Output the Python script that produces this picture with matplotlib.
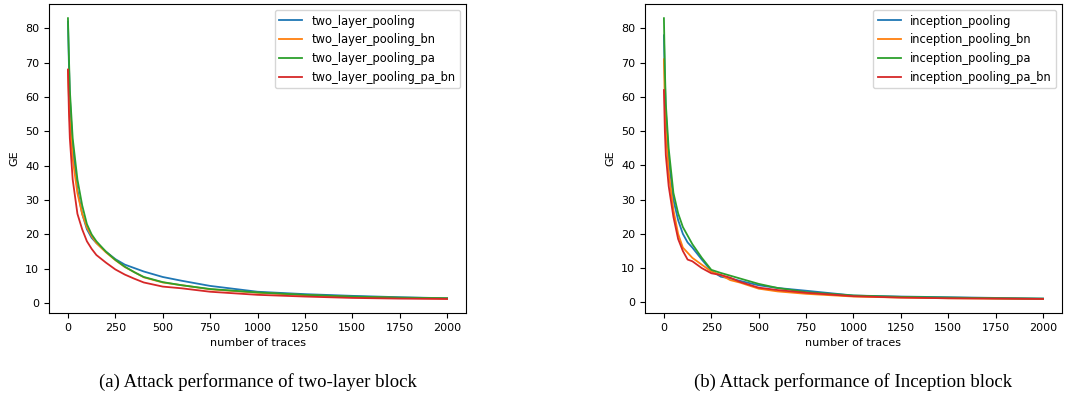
import matplotlib.pyplot as plt

# valeurs (GE en fonction du nombre de traces)
x_pts = [0, 5, 10, 25, 50, 75, 100, 125, 150, 200, 250, 300, 350, 400, 500, 600, 750, 1000, 1250, 1500, 1750, 2000]

two_layer = {
    "two_layer_pooling":       [82, 70, 60, 45, 33, 26, 21.5, 19, 17.5, 15, 12.8, 11.2, 10.2, 9.2, 7.6, 6.5, 5.0, 3.3, 2.6, 2.1, 1.7, 1.4],
    "two_layer_pooling_bn":    [68, 60, 53, 42, 32, 26, 22, 19.5, 17.5, 14.8, 12.5, 10.5, 9.0, 7.5, 6.0, 5.2, 4.0, 3.0, 2.3, 1.8, 1.5, 1.3],
    "two_layer_pooling_pa":    [83, 72, 62, 48, 36, 28.5, 23, 20, 18, 15, 12.6, 10.6, 9.0, 7.6, 6.1, 5.2, 4.1, 3.1, 2.4, 1.9, 1.6, 1.4],
    "two_layer_pooling_pa_bn": [68, 56, 48, 36, 26, 21.5, 18, 15.8, 14, 11.8, 9.8, 8.3, 7.1, 6.0, 4.8, 4.3, 3.3, 2.4, 1.9, 1.5, 1.3, 1.2],
}

inception = {
    "inception_pooling":       [78, 65, 56, 42, 30, 24, 20, 17.5, 16, 12.5, 9.2, 7.5, 7.0, 6.3, 5.0, 4.2, 3.4, 2.0, 1.7, 1.5, 1.3, 1.1],
    "inception_pooling_bn":    [71, 58, 50, 38, 27, 20, 16, 14.5, 13, 11, 9.0, 8.0, 6.5, 5.8, 4.0, 3.2, 2.5, 1.7, 1.4, 1.2, 1.1, 1.0],
    "inception_pooling_pa":    [83, 68, 58, 45, 32, 26, 22, 19.5, 17, 13, 9.5, 8.6, 7.8, 7.0, 5.4, 4.2, 3.0, 2.0, 1.6, 1.4, 1.2, 1.1],
    "inception_pooling_pa_bn": [62, 50, 43, 34, 25, 18.5, 15, 12.5, 12, 10, 8.5, 8.0, 7.2, 6.0, 4.3, 3.6, 2.8, 1.8, 1.4, 1.2, 1.1, 1.0],
}

legendes = ["(a) Attack performance of two-layer block", "(b) Attack performance of Inception block"]

fig = plt.figure(figsize=(10.65, 3.98), dpi=100)
positions = [[0.046, 0.2136, 0.3916, 0.776], [0.6056, 0.2136, 0.3916, 0.776]]

for pos, courbes, legende in zip(positions, [two_layer, inception], legendes):
    ax = fig.add_axes(pos)
    for nom, valeurs in courbes.items():
        ax.plot(x_pts, valeurs, linewidth=1.3, label=nom)
    ax.set_xticks([0, 250, 500, 750, 1000, 1250, 1500, 1750, 2000])
    ax.set_yticks([0, 10, 20, 30, 40, 50, 60, 70, 80])
    ax.tick_params(labelsize=8)
    ax.set_xlabel("number of traces", fontsize=8)
    ax.set_ylabel("GE", fontsize=8)
    ax.legend(fontsize=8.3, loc="upper right")
    cx = pos[0] + pos[2] / 2
    fig.text(cx, 0.04, legende, ha="center", va="center", family="Liberation Serif", fontsize=13.5)

fig.savefig("out.png", dpi=100)
